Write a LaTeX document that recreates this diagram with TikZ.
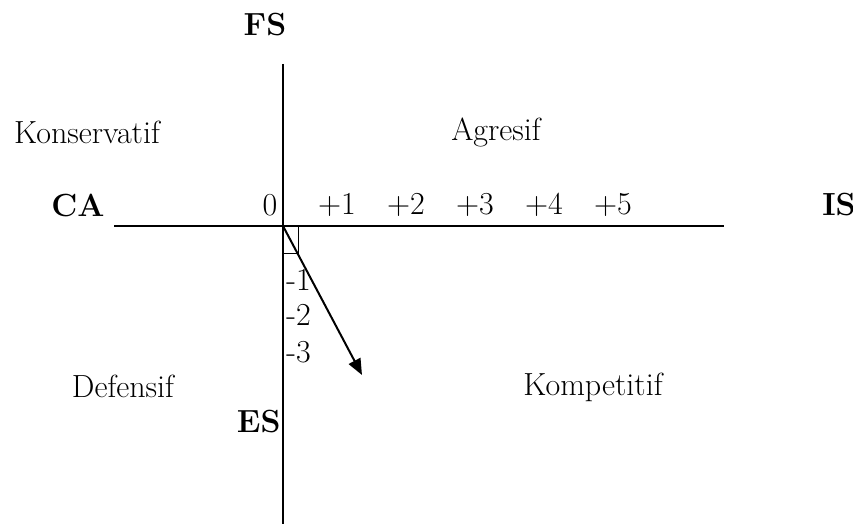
\documentclass[tikz,border=0pt]{standalone}
\usetikzlibrary{arrows.meta}
\newcommand{\lblsize}{\fontsize{16}{19}\selectfont}
\tikzset{
  axisline/.style={line width=1pt},
  lbl/.style={inner sep=0pt},
  axlbl/.style={inner sep=0pt,font=\lblsize\bfseries}
}
\begin{document}
\begin{tikzpicture}[x=0.5pt,y=-0.5pt,every node/.style={font=\lblsize}]
\useasboundingbox (0,0) rectangle (853,524);
% axes
\coordinate (O) at (283,226);
\coordinate (left) at (114,226);
\coordinate (right) at (724,226);
\coordinate (top) at (283,64);
\coordinate (bottom) at (283,524);
\draw[axisline] (left) -- (right);
\draw[axisline] (top) -- (bottom);
\node[axlbl] (fs) at (265,25) {FS};
\node[axlbl] (ca) at (78,205) {CA};
\node[axlbl] (is) at (839,205) {IS};
\node[axlbl,anchor=east] (es) at (281,422) {ES};
% scale
\node[lbl] (t0) at (270,205) {0};
\foreach \i in {1,...,5}
  \node[lbl] (t\i) at (268+69*\i,205) {+\i};
\node[lbl,anchor=west] (m1) at (286,280) {-1};
\node[lbl,anchor=west] (m2) at (286,315) {-2};
\node[lbl,anchor=west] (m3) at (286,352) {-3};
% quadrants
\node[lbl] (kons) at (87,132) {Konservatif};
\node[lbl] (agr) at (496,132) {Agresif};
\node[lbl] (def) at (123,386) {Defensif};
\node[lbl] (komp) at (593,387) {Kompetitif};
% position
\draw[line width=0.5pt] (O) rectangle (298,254);
\coordinate (pos) at (362,375);
\draw[line width=1pt,-{Triangle[length=8pt,width=6.5pt]}] (O) -- (pos);
\end{tikzpicture}
\end{document}
